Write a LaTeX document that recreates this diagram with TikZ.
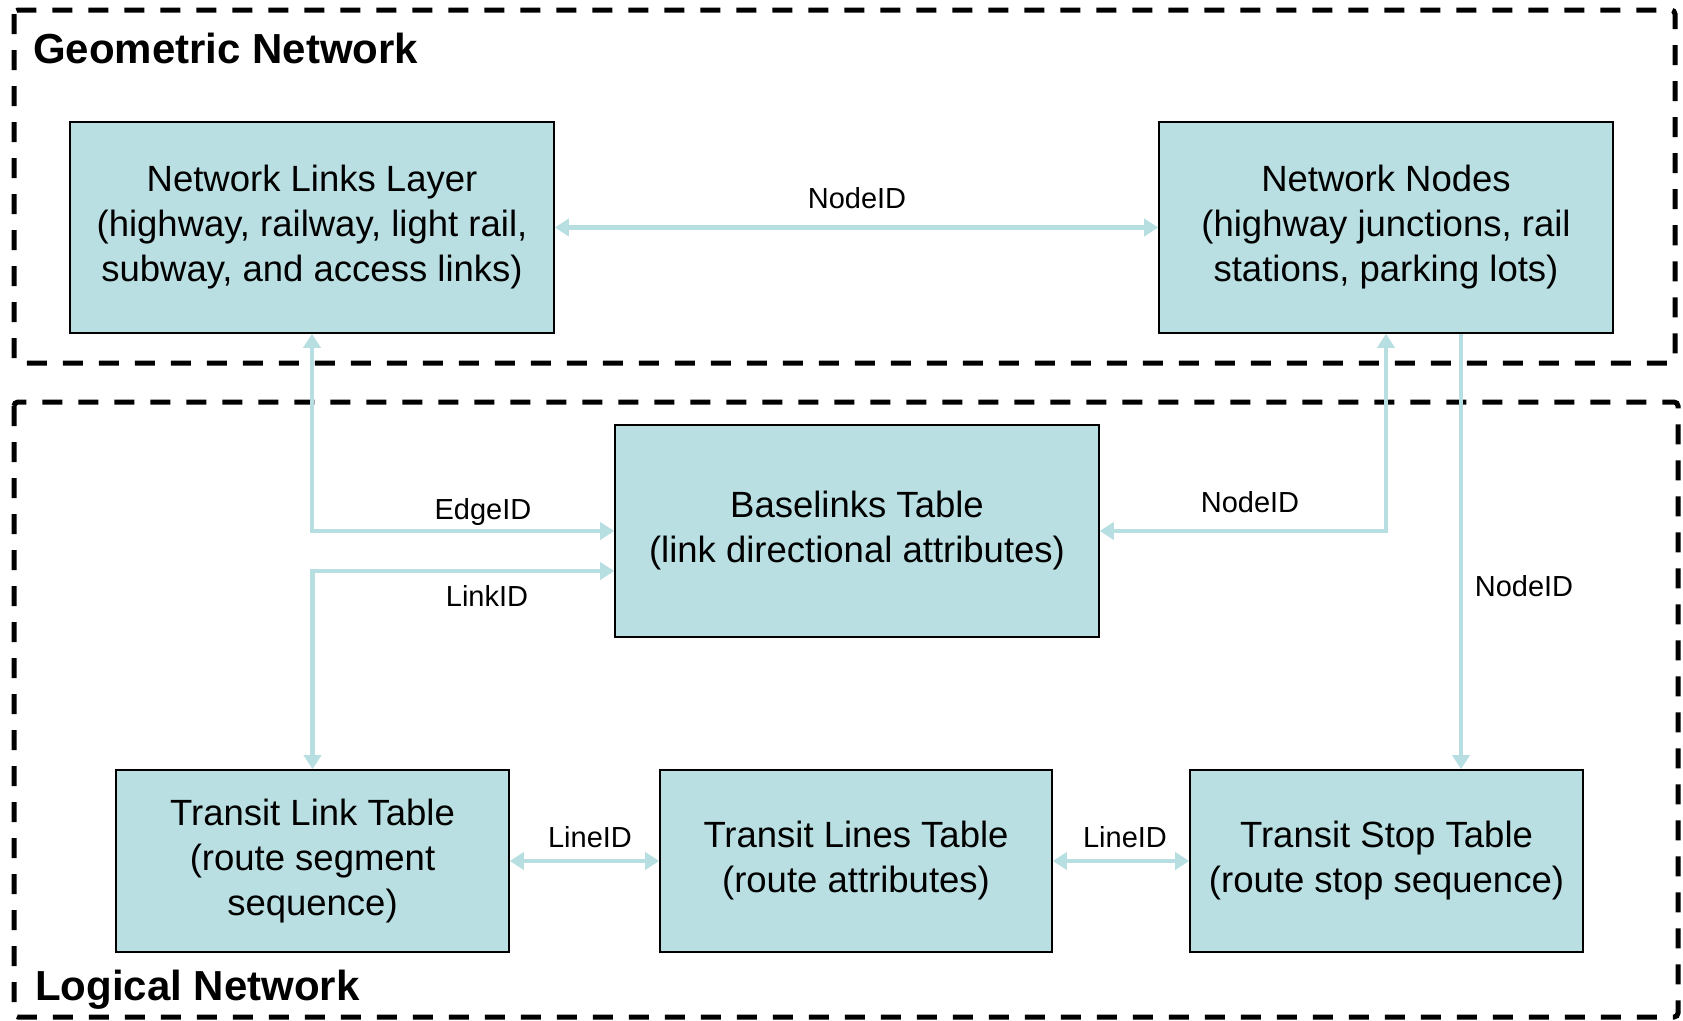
\documentclass[tikz,border=0pt]{standalone}
\usepackage{fontspec}
\setmainfont{Liberation Sans}
\usetikzlibrary{arrows.meta}
\definecolor{boxfill}{RGB}{185,223,226}
\definecolor{conncol}{RGB}{183,222,224}
\tikzset{
  tbox/.style={draw=black, line width=1.6pt, fill=boxfill, inner sep=0pt, align=center,
    font=\fontsize{36.5}{45}\selectfont},
  conn/.style={draw=conncol, line width=4.5pt, line join=miter,
    >={Triangle[length=14pt,width=17pt]}},
  lbl/.style={inner sep=0pt, anchor=base, font=\fontsize{29}{35}\selectfont},
  ttl/.style={inner sep=0pt, anchor=base west, font=\bfseries\fontsize{42}{50}\selectfont},
  frame/.style={draw=black, line width=5pt, dash pattern=on 20pt off 16pt, rounded corners=4pt}
}
\begin{document}
\begin{tikzpicture}[x=1pt,y=-1pt]
\useasboundingbox (0,0) rectangle (1683,1020);
% group frames
\draw[frame] (14,10) rectangle (1675,363);
\draw[frame] (14,402) rectangle (1678,1017);
\node[ttl] (gtitle) at (33,63) {Geometric Network};
\node[ttl] (ltitle) at (35,1000) {Logical Network};
% boxes
\node[tbox, minimum width=484pt, minimum height=211pt] (nll) at (312,227.5)
  {Network Links Layer\\(highway, railway, light rail,\\subway, and access links)};
\node[tbox, minimum width=454pt, minimum height=211pt] (nn) at (1386,227.5)
  {Network Nodes\\(highway junctions, rail\\stations, parking lots)};
\node[tbox, minimum width=484pt, minimum height=212pt] (bl) at (857,531)
  {Baselinks Table\\(link directional attributes)};
\node[tbox, minimum width=393pt, minimum height=182pt] (tl) at (312.5,861)
  {Transit Link Table\\(route segment\\sequence)};
\node[tbox, minimum width=392pt, minimum height=182pt] (lines) at (856,861)
  {Transit Lines Table\\(route attributes)};
\node[tbox, minimum width=393pt, minimum height=182pt] (stop) at (1386.5,861)
  {Transit Stop Table\\(route stop sequence)};
% connectors
\draw[conn,<->] (nll.east) -- (nn.west);
\draw[conn,<->] (nll.south) |- (bl.west);
\coordinate (lk) at ([yshift=-40pt]bl.west);
\draw[conn,<->] (lk) -| (tl.north);
\draw[conn,<->] (nn.south) |- (bl.east);
\coordinate (nd) at ([xshift=75pt]nn.south);
\draw[conn,->] (nd) -- (nd |- stop.north);
\draw[conn,<->] (tl.east) -- (lines.west);
\draw[conn,<->] (lines.east) -- (stop.west);
% labels
\node[lbl] (l1) at (857,208) {NodeID};
\node[lbl] (l2) at (483,519) {EdgeID};
\node[lbl] (l3) at (487,606) {LinkID};
\node[lbl] (l4) at (1250,512) {NodeID};
\node[lbl] (l5) at (1524,596) {NodeID};
\node[lbl] (l6) at (590,847) {LineID};
\node[lbl] (l7) at (1125,847) {LineID};
\end{tikzpicture}
\end{document}
